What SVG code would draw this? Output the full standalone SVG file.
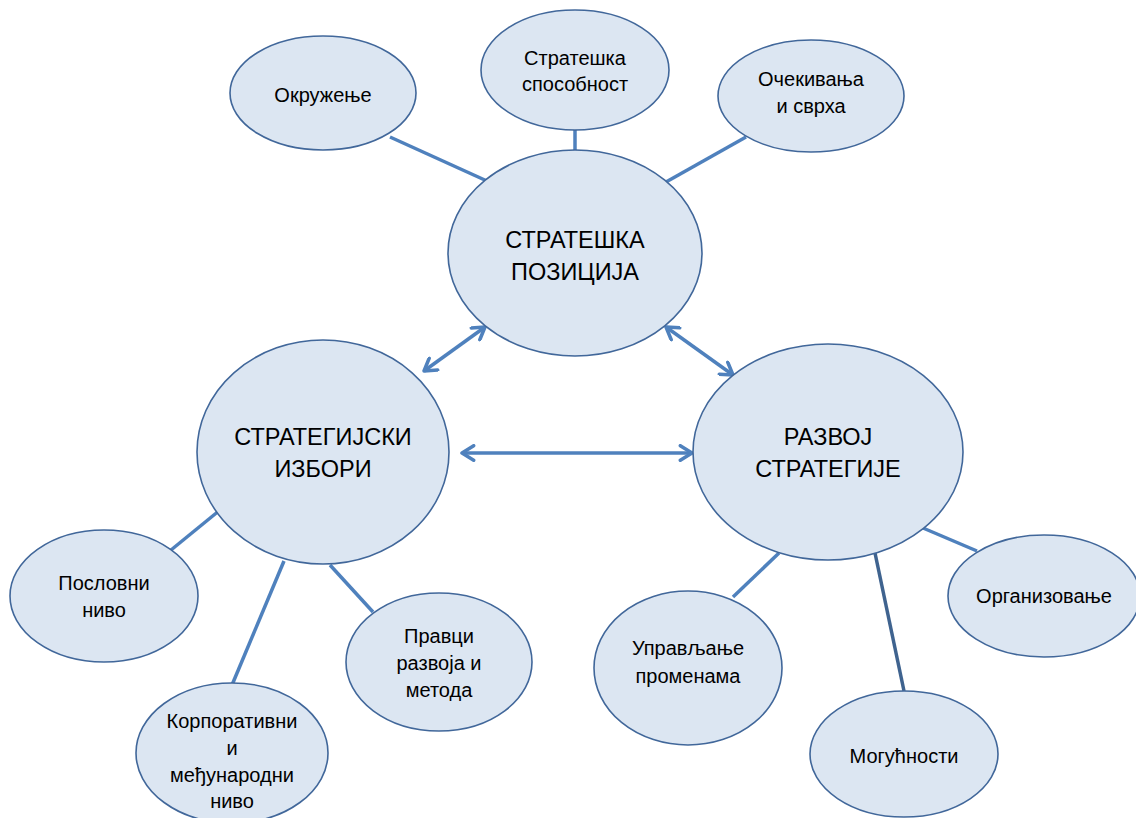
<svg xmlns="http://www.w3.org/2000/svg" width="1136" height="818" viewBox="0 0 1136 818">
<defs>
<style>
.n{fill:#dce6f2;stroke:#41679a;stroke-width:1.6}
.t{font-family:"Liberation Sans",Arial,sans-serif;font-size:20px;fill:#000;text-anchor:middle}
.b{font-size:23.5px}
.c{stroke:#4f81bd;stroke-width:3.5;fill:none}
.d{stroke:#3f638f}
.a{marker-start:url(#ah);marker-end:url(#ah)}
</style>
<marker id="ah" viewBox="0 0 12 12" refX="10" refY="6" markerWidth="5" markerHeight="5" orient="auto-start-reverse" markerUnits="strokeWidth">
<path d="M2,1 L10,6 L2,11" fill="none" stroke="#4f81bd" stroke-width="2.4" stroke-linecap="round" stroke-linejoin="round"/>
</marker>
</defs>
<rect width="1136" height="818" fill="#fff"/>
<g id="connectors">
<line class="c" x1="390" y1="137" x2="487" y2="181"/>
<line class="c" x1="575" y1="130" x2="575" y2="151"/>
<line class="c" x1="746" y1="137" x2="666" y2="182"/>
<line class="c a" x1="424" y1="371" x2="485" y2="327"/>
<line class="c a" x1="666" y1="327" x2="733" y2="375"/>
<line class="c a" x1="462" y1="453" x2="692" y2="453"/>
<line class="c" x1="220" y1="510" x2="171" y2="550"/>
<line class="c" x1="284" y1="561" x2="232" y2="685"/>
<line class="c" x1="330" y1="565" x2="373" y2="612"/>
<line class="c" x1="779" y1="553" x2="733" y2="597"/>
<line class="c d" x1="875" y1="553" x2="904" y2="691"/>
<line class="c" x1="923" y1="528" x2="977" y2="551"/>
</g>
<g id="n-okruzenje"><ellipse class="n" cx="323" cy="93" rx="93" ry="57"/><text class="t" x="323" y="102">Окружење</text></g>
<g id="n-sposobnost"><ellipse class="n" cx="575" cy="70" rx="94" ry="60"/><text class="t" x="575" y="65">Стратешка</text><text class="t" x="575" y="91">способност</text></g>
<g id="n-ocekivanja"><ellipse class="n" cx="811" cy="96" rx="93" ry="56"/><text class="t" x="811" y="86">Очекивања</text><text class="t" x="811" y="113">и сврха</text></g>
<g id="n-pozicija"><ellipse class="n" cx="575" cy="253" rx="127" ry="103"/><text class="t b" x="575" y="248">СТРАТЕШКА</text><text class="t b" x="575" y="280">ПОЗИЦИЈА</text></g>
<g id="n-izbori"><ellipse class="n" cx="323" cy="452" rx="126" ry="112"/><text class="t b" x="323" y="445">СТРАТЕГИЈСКИ</text><text class="t b" x="323" y="477">ИЗБОРИ</text></g>
<g id="n-razvoj"><ellipse class="n" cx="828" cy="452" rx="135" ry="108"/><text class="t b" x="828" y="445">РАЗВОЈ</text><text class="t b" x="828" y="477">СТРАТЕГИЈЕ</text></g>
<g id="n-poslovni"><ellipse class="n" cx="104" cy="596" rx="94" ry="66"/><text class="t" x="104" y="590">Пословни</text><text class="t" x="104" y="617">ниво</text></g>
<g id="n-korporativni"><ellipse class="n" cx="232" cy="753" rx="96" ry="70"/><text class="t" x="232" y="728">Корпоративни</text><text class="t" x="232" y="755">и</text><text class="t" x="232" y="782">међународни</text><text class="t" x="232" y="808">ниво</text></g>
<g id="n-pravci"><ellipse class="n" cx="439" cy="662" rx="93" ry="69"/><text class="t" x="439" y="643">Правци</text><text class="t" x="439" y="670">развоја и</text><text class="t" x="439" y="697">метода</text></g>
<g id="n-upravljanje"><ellipse class="n" cx="688" cy="668" rx="94" ry="77"/><text class="t" x="688" y="655">Управљање</text><text class="t" x="688" y="683">променама</text></g>
<g id="n-mogucnosti"><ellipse class="n" cx="904" cy="754" rx="94" ry="63"/><text class="t" x="904" y="763">Могућности</text></g>
<g id="n-organizovanje"><ellipse class="n" cx="1044" cy="596" rx="96" ry="61"/><text class="t" x="1044" y="603">Организовање</text></g>
</svg>
